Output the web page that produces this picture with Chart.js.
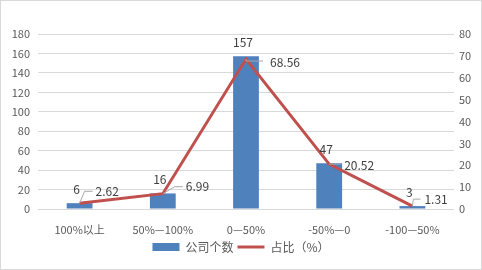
<!DOCTYPE html>
<html lang="zh">
<head>
    <meta charset="UTF-8">
    <title>公司个数分布</title>
    <script src="https://cdn.jsdelivr.net/npm/chart.js"></script>
    <style>
        body {
            margin: 0;
            background: #fff;
        }
        #wrap {
            width: 480px;
            height: 268px;
            border: 1px solid #d9d9d9;
        }
    </style>
</head>
<body>
<div id="wrap">
    <canvas id="chart" width="480" height="268"></canvas>
</div>

<script>
    const categories = ['100%以上', '50%—100%', '0—50%', '-50%—0', '-100—50%'];
    const companyCounts = [6, 16, 157, 47, 3];
    const sharePct = [2.62, 6.99, 68.56, 20.52, 1.31];
    const leftTicks = [0, 20, 40, 60, 80, 100, 120, 140, 160, 180];
    const rightTicks = [0, 10, 20, 30, 40, 50, 60, 70, 80];

    const FONT = '"Microsoft YaHei", "Noto Sans CJK SC", sans-serif';
    const BLUE = '#4f81bd';
    const RED = '#c0504d';

    // leader line shape per point: elbow dx/dy, end dx, text dx/dy
    const leaders = [
        {ex: 5, ey: -12, lx: 13, tx: 16, ty: -12},
        {ex: 12, ey: -7, lx: 20, tx: 23, ty: -7},
        {ex: 0, ey: 2, lx: 17, tx: 24, ty: 3},
        {ex: 0, ey: 0, lx: 12, tx: 15, ty: 1},
        {ex: 1, ey: -7, lx: 8, tx: 12, ty: -7}
    ];

    const labelPlugin = {
        id: 'valueLabels',
        afterDatasetsDraw(chart) {
            const ctx = chart.ctx;
            const bars = chart.getDatasetMeta(0).data;
            const pts = chart.getDatasetMeta(1).data;
            ctx.save();
            ctx.font = '12px ' + FONT;
            ctx.fillStyle = '#404040';
            ctx.textBaseline = 'middle';
            ctx.textAlign = 'center';
            bars.forEach((b, i) => {
                ctx.fillText(String(companyCounts[i]), b.x - 3, b.y - 14);
            });
            ctx.textAlign = 'left';
            ctx.strokeStyle = '#a6a6a6';
            ctx.lineWidth = 1;
            pts.forEach((p, i) => {
                const l = leaders[i];
                ctx.beginPath();
                ctx.moveTo(p.x, p.y);
                ctx.lineTo(p.x + l.ex, p.y + l.ey);
                ctx.lineTo(p.x + l.lx, p.y + l.ey);
                ctx.stroke();
                ctx.fillText(sharePct[i].toFixed(2), p.x + l.tx, p.y + l.ty);
            });
            ctx.restore();
        }
    };

    new Chart(document.getElementById('chart'), {
        data: {
            labels: categories,
            datasets: [{
                type: 'bar',
                label: '公司个数',
                data: companyCounts,
                backgroundColor: BLUE,
                yAxisID: 'y',
                barPercentage: 0.62,
                categoryPercentage: 0.5,
                order: 2
            }, {
                type: 'line',
                label: '占比（%）',
                data: sharePct,
                borderColor: RED,
                backgroundColor: RED,
                borderWidth: 3,
                pointRadius: 0,
                tension: 0,
                yAxisID: 'y1',
                order: 1
            }]
        },
        options: {
            responsive: false,
            animation: false,
            layout: {padding: {top: 33, left: 0, right: 0, bottom: 6}},
            plugins: {
                tooltip: {enabled: false},
                legend: {
                    position: 'bottom',
                    labels: {
                        font: {family: FONT, size: 12},
                        color: '#595959',
                        usePointStyle: true,
                        boxWidth: 27,
                        boxHeight: 8,
                        pointStyleWidth: 27,
                        padding: 4,
                        generateLabels(chart) {
                            return chart.data.datasets.map((ds, i) => ({
                                text: ds.label,
                                datasetIndex: i,
                                pointStyle: ds.type === 'bar' ? 'rect' : 'line',
                                fillStyle: ds.backgroundColor,
                                strokeStyle: ds.type === 'bar' ? BLUE : RED,
                                lineWidth: ds.type === 'bar' ? 0 : 3,
                                fontColor: '#595959'
                            }));
                        }
                    }
                }
            },
            scales: {
                x: {
                    grid: {display: false},
                    border: {display: false},
                    ticks: {font: {family: FONT, size: 11}, color: '#595959', padding: 6},
                    afterFit(scale) { scale.height = 28; }
                },
                y: {
                    position: 'left',
                    min: 0,
                    max: 180,
                    afterBuildTicks(scale) { scale.ticks = leftTicks.map(v => ({value: v})); },
                    grid: {color: '#d9d9d9', drawTicks: false},
                    border: {display: false},
                    ticks: {font: {family: FONT, size: 11}, color: '#595959', padding: 8},
                    afterFit(scale) { scale.width = 37; }
                },
                y1: {
                    position: 'right',
                    min: 0,
                    max: 80,
                    afterBuildTicks(scale) { scale.ticks = rightTicks.map(v => ({value: v})); },
                    grid: {display: false, drawTicks: false},
                    border: {display: false},
                    ticks: {font: {family: FONT, size: 11}, color: '#595959', padding: 5},
                    afterFit(scale) { scale.width = 27; }
                }
            }
        },
        plugins: [labelPlugin]
    });
</script>
</body>
</html>
